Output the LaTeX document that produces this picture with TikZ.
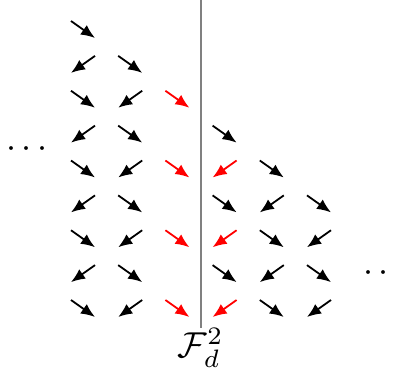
\documentclass[tikz,border=0pt]{standalone}
\usetikzlibrary{arrows.meta}
\begin{document}
\begin{tikzpicture}[x=0.2778pt,y=-0.2778pt,
  arr/.style={-{Latex[length=3.9pt,width=3.2pt]},line width=0.5pt},
  divider/.style={gray,line width=0.45pt},
  lbl/.style={inner sep=1pt}]
\useasboundingbox (0,0) rectangle (396,368);
\foreach \c/\r/\d/\col in {
  1/1/1/black, 1/2/-1/black, 1/3/1/black, 1/4/-1/black, 1/5/1/black, 1/6/-1/black, 1/7/1/black, 1/8/-1/black, 1/9/1/black,
  2/2/1/black, 2/3/-1/black, 2/4/1/black, 2/5/-1/black, 2/6/1/black, 2/7/-1/black, 2/8/1/black, 2/9/-1/black,
  3/3/1/red, 3/5/1/red, 3/7/1/red, 3/9/1/red,
  4/4/1/black, 4/5/-1/red, 4/6/1/black, 4/7/-1/red, 4/8/1/black, 4/9/-1/red,
  5/5/1/black, 5/6/-1/black, 5/7/1/black, 5/8/-1/black, 5/9/1/black,
  6/6/1/black, 6/7/-1/black, 6/8/1/black, 6/9/-1/black}{
  \pgfmathsetmacro\cx{83+47.2*(\c-1)}
  \pgfmathsetmacro\cy{29.5+34.875*(\r-1)}
  \coordinate (s\c\r) at (\cx-12*\d,\cy-8.5);
  \coordinate (e\c\r) at (\cx+12*\d,\cy+8.5);
  \draw[arr,\col] (s\c\r) -- (e\c\r);
}
\coordinate (top) at (200.7,0);
\coordinate (bot) at (200.7,328);
\draw[divider] (top) -- (bot);
\node[lbl,anchor=north] (F) at (200.7,324) {$\mathcal{F}_d^2$};
\node (ldots) at (27,149) {$\cdots$};
\node (rdots) at (384,273) {$\cdots$};
\end{tikzpicture}
\end{document}
